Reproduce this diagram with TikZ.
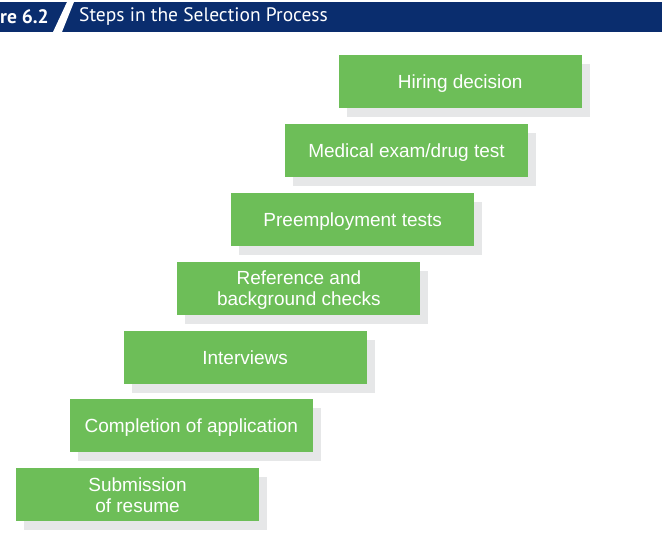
\documentclass[tikz,border=0pt]{standalone}
\usepackage{fontspec}
\setmainfont{Liberation Sans}
\newfontfamily\headfont{PT Sans}
\usetikzlibrary{positioning,shadows}
\definecolor{headNavy}{HTML}{0A2D6E}
\definecolor{stepGreen}{HTML}{6DBE58}
\definecolor{stepShadow}{HTML}{E6E7E8}

\tikzset{
  stepbox/.style={fill=stepGreen,text=white,align=center,minimum width=243pt,minimum height=53pt,
    inner sep=0pt,text depth=3pt,font=\fontsize{19}{21}\selectfont,
    drop shadow={shadow xshift=8pt,shadow yshift=-9pt,fill=stepShadow,opacity=1}}
}

\begin{document}
\begin{tikzpicture}[x=1pt,y=1pt]
      \useasboundingbox (0,0) rectangle (662,550);
      % header bar
      \fill[headNavy] (0,518) rectangle (662,548);
      \fill[white] (53,518) -- (62,518) -- (74,548) -- (67,548) -- cycle;
      \node[anchor=west,text=white,inner sep=0pt,font=\headfont\bfseries\fontsize{19.5}{21}\selectfont] (fig) at (0,533) {re 6.2};
      \node[anchor=west,text=white,inner sep=0pt,font=\headfont\fontsize{19.5}{21}\selectfont] (title) at (79,533) {Steps in the Selection Process};
      % steps, bottom to top (\h = text height)
      \foreach \k/\txt/\h in {1/{Submission\\of resume}/38,2/{Completion of application}/17,3/{Interviews}/17,
          4/{Reference and\\background checks}/38,5/{Preemployment tests}/17,6/{Medical exam{/}drug test}/17,7/{Hiring decision}/17}
        \node[stepbox,text height=\h pt] (s\k) at ({137.5+53.8*(\k-1)},{55.5+68.75*(\k-1)}) {\txt};
    \end{tikzpicture}
\end{document}
